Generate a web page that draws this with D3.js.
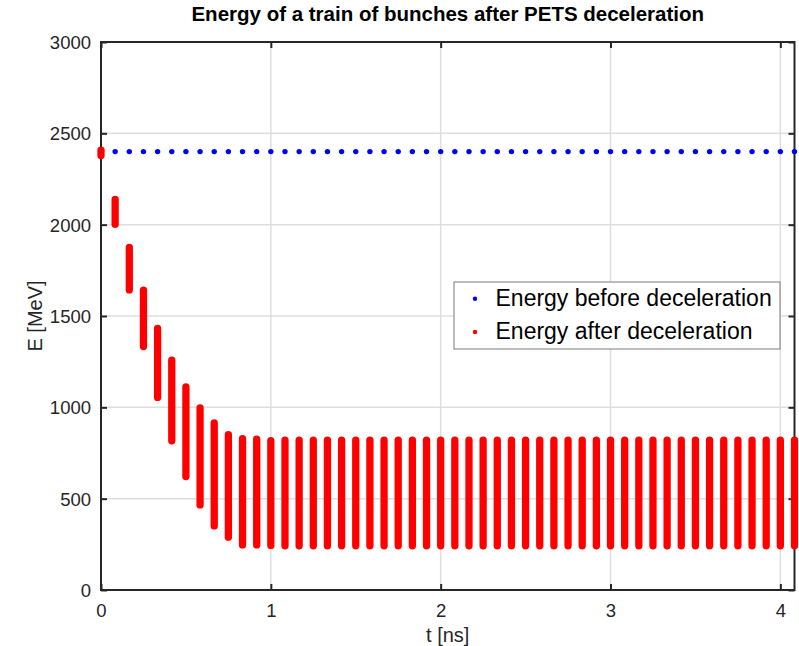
<!DOCTYPE html>
<html>
<head>
<meta charset="utf-8">
<script src="https://cdn.jsdelivr.net/npm/d3@7"></script>
<style>
  html, body { margin: 0; padding: 0; background: #fff; }
  svg { display: block; font-family: "Liberation Sans", Arial, Helvetica, sans-serif; }
</style>
</head>
<body>
<svg id="chart" width="799" height="646"></svg>
<script>
// Bunch arrival times along the train [ns]
const timeNs = [
  0, 0.0833, 0.1667, 0.25, 0.3333, 0.4167, 0.5, 0.5833, 0.6667, 0.75,
  0.8333, 0.9167, 1.0, 1.0833, 1.1667, 1.25, 1.3333, 1.4167, 1.5, 1.5833,
  1.6667, 1.75, 1.8333, 1.9167, 2.0, 2.0833, 2.1667, 2.25, 2.3333, 2.4167,
  2.5, 2.5833, 2.6667, 2.75, 2.8333, 2.9167, 3.0, 3.0833, 3.1667, 3.25,
  3.3333, 3.4167, 3.5, 3.5833, 3.6667, 3.75, 3.8333, 3.9167, 4.0, 4.0833
];

// Energy of each bunch before the PETS [MeV]
const energyBefore = [
  2400, 2400, 2400, 2400, 2400, 2400, 2400, 2400, 2400, 2400,
  2400, 2400, 2400, 2400, 2400, 2400, 2400, 2400, 2400, 2400,
  2400, 2400, 2400, 2400, 2400, 2400, 2400, 2400, 2400, 2400,
  2400, 2400, 2400, 2400, 2400, 2400, 2400, 2400, 2400, 2400,
  2400, 2400, 2400, 2400, 2400, 2400, 2400, 2400, 2400, 2400
];

// Energy spread of each bunch after deceleration: lowest and highest particle [MeV]
const energyAfterMin = [
  2378, 2002, 1643, 1333, 1054, 817, 621, 466, 351, 289,
  247, 247, 244, 242, 242, 242, 242, 242, 242, 242,
  242, 242, 242, 242, 242, 242, 242, 242, 242, 242,
  242, 242, 242, 242, 242, 242, 242, 242, 242, 242,
  242, 242, 242, 242, 242, 242, 242, 242, 242, 242
];
const energyAfterMax = [
  2408, 2138, 1875, 1641, 1432, 1258, 1112, 997, 915, 851,
  829, 826, 818, 820, 820, 820, 820, 820, 820, 820,
  820, 820, 820, 820, 820, 820, 820, 820, 820, 820,
  820, 820, 820, 820, 820, 820, 820, 820, 820, 820,
  820, 820, 820, 820, 820, 820, 820, 820, 820, 820
];

const xTicks = [0, 1, 2, 3, 4];
const yTicks = [0, 500, 1000, 1500, 2000, 2500, 3000];

const titleText = "Energy of a train of bunches after PETS deceleration";
const xLabel = "t [ns]";
const yLabel = "E [MeV]";
const legendLabels = ["Energy before deceleration", "Energy after deceleration"];
const seriesColors = ["#0000ff", "#ff0000"];

// Plot box
const plotLeft = 101, plotRight = 794.5, plotTop = 42, plotBottom = 590;
const axisColor = "#262626";
const gridColor = "#dedede";
const tickLen = 6;

const svg = d3.select("#chart");

const x = d3.scaleLinear().domain([0, timeNs[timeNs.length - 1]]).range([plotLeft, plotRight]);
const y = d3.scaleLinear().domain([0, 3000]).range([plotBottom, plotTop]);

// Grid lines
const grid = svg.append("g");
grid.selectAll("line.gx").data(xTicks).join("line")
  .attr("class", "gx")
  .attr("x1", d => x(d)).attr("x2", d => x(d))
  .attr("y1", plotTop).attr("y2", plotBottom)
  .attr("stroke", gridColor).attr("stroke-width", 1.5);
grid.selectAll("line.gy").data(yTicks).join("line")
  .attr("class", "gy")
  .attr("x1", plotLeft).attr("x2", plotRight)
  .attr("y1", d => y(d)).attr("y2", d => y(d))
  .attr("stroke", gridColor).attr("stroke-width", 1.5);

// Axes with inward ticks on all four sides
const axisStyle = g => {
  g.select(".domain").remove();
  g.selectAll(".tick line").attr("stroke", axisColor).attr("stroke-width", 2);
  g.selectAll(".tick text").attr("fill", axisColor).attr("font-size", 18.5)
    .attr("font-family", "'Liberation Sans', Arial, Helvetica, sans-serif");
};

svg.append("g").attr("transform", `translate(0,${plotBottom})`)
  .call(d3.axisBottom(x).tickValues(xTicks).tickFormat(d3.format("d"))
    .tickSizeInner(-tickLen).tickSizeOuter(0).tickPadding(22))
  .call(axisStyle)
  .call(g => g.selectAll(".tick text").attr("dy", 0).attr("y", 27));

svg.append("g").attr("transform", `translate(${plotLeft},0)`)
  .call(d3.axisLeft(y).tickValues(yTicks).tickFormat(d3.format("d"))
    .tickSizeInner(-tickLen).tickSizeOuter(0).tickPadding(10))
  .call(axisStyle)
  .call(g => g.selectAll(".tick text").attr("dy", "0.35em"));

svg.append("g").attr("transform", `translate(0,${plotTop})`)
  .call(d3.axisTop(x).tickValues(xTicks).tickFormat("").tickSizeInner(-tickLen).tickSizeOuter(0))
  .call(axisStyle);

svg.append("g").attr("transform", `translate(${plotRight},0)`)
  .call(d3.axisRight(y).tickValues(yTicks).tickFormat("").tickSizeInner(-tickLen).tickSizeOuter(0))
  .call(axisStyle);

// Axes box
svg.append("rect")
  .attr("x", plotLeft).attr("y", plotTop)
  .attr("width", plotRight - plotLeft).attr("height", plotBottom - plotTop)
  .attr("fill", "none").attr("stroke", axisColor).attr("stroke-width", 2);

const bunches = timeNs.map((t, i) => ({
  t, before: energyBefore[i], lo: energyAfterMin[i], hi: energyAfterMax[i]
}));

// Energy before deceleration
svg.append("g").selectAll("circle").data(bunches).join("circle")
  .attr("cx", d => x(d.t)).attr("cy", d => y(d.before))
  .attr("r", 2.7).attr("fill", seriesColors[0]);

// Energy after deceleration: each bunch spans its particle energy spread
svg.append("g").selectAll("line").data(bunches).join("line")
  .attr("x1", d => x(d.t)).attr("x2", d => x(d.t))
  .attr("y1", d => y(d.lo)).attr("y2", d => y(d.hi))
  .attr("stroke", seriesColors[1]).attr("stroke-width", 7.3)
  .attr("stroke-linecap", "round");

// Title and axis labels
svg.append("text")
  .attr("x", (plotLeft + plotRight) / 2).attr("y", 21)
  .attr("text-anchor", "middle").attr("font-weight", "bold")
  .attr("font-size", 20.5).attr("fill", "#000")
  .text(titleText);

svg.append("text")
  .attr("x", (plotLeft + plotRight) / 2).attr("y", 642)
  .attr("text-anchor", "middle").attr("font-size", 20).attr("fill", axisColor)
  .text(xLabel);

svg.append("text")
  .attr("transform", `translate(41.5,${(plotTop + plotBottom) / 2}) rotate(-90)`)
  .attr("text-anchor", "middle").attr("font-size", 20).attr("fill", axisColor)
  .text(yLabel);

// Legend
const legend = svg.append("g").attr("transform", "translate(454,282)");
legend.append("rect")
  .attr("width", 326).attr("height", 67)
  .attr("fill", "#fff").attr("stroke", "#7a7a7a").attr("stroke-width", 1);
const rows = legend.selectAll("g.row").data(legendLabels).join("g")
  .attr("class", "row")
  .attr("transform", (d, i) => `translate(0,${i === 0 ? 16.7 : 50})`);
rows.append("circle").attr("cx", 21).attr("cy", 0).attr("r", 2.2)
  .attr("fill", (d, i) => seriesColors[i]);
rows.append("text").attr("x", 41.5).attr("y", 6.8)
  .attr("font-size", 23).attr("fill", "#000")
  .text(d => d);
</script>
</body>
</html>
